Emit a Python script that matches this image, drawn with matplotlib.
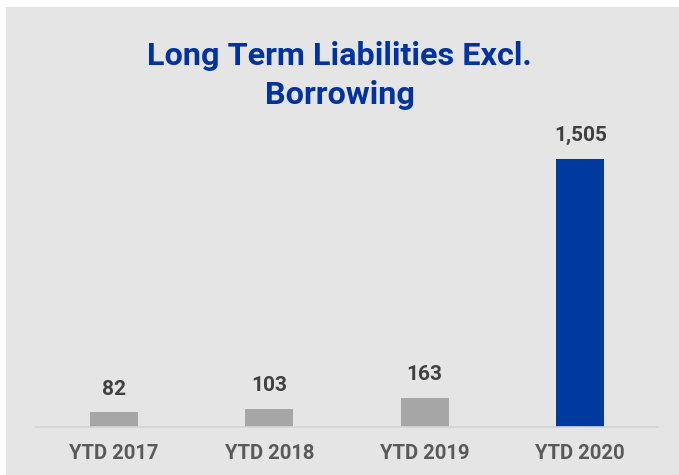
import matplotlib
matplotlib.use("Agg")
import matplotlib.pyplot as plt
from matplotlib.patches import Rectangle

categories = ["YTD 2017", "YTD 2018", "YTD 2019", "YTD 2020"]
values = [82, 103, 163, 1505]
value_labels = ["82", "103", "163", "1,505"]
bar_colors = ["#A6A6A6", "#A6A6A6", "#A6A6A6", "#003A9E"]
title = "Long Term Liabilities Excl.\nBorrowing"

FONT = ["Roboto", "DejaVu Sans"]

W, H, DPI = 679, 475, 100
fig = plt.figure(figsize=(W / DPI, H / DPI), dpi=DPI, facecolor="white")

# gray panel behind the chart, leaving a thin white margin top and left
fig.patches.append(Rectangle((6 / W, 0), 1 - 6 / W, 1 - 7 / H,
                             transform=fig.transFigure, facecolor="#E5E5E5",
                             edgecolor="none", zorder=-5))

ax = fig.add_axes([36 / W, 48 / H, (658 - 36) / W, (427 - 124) / H])
ax.set_zorder(2)
ax.set_facecolor("none")
x = range(len(categories))
ax.bar(x, values, width=0.31, color=bar_colors, zorder=2)
ax.set_xlim(-0.5, 3.5)
ax.set_ylim(0, 1700)

for s in ["top", "right", "left"]:
    ax.spines[s].set_visible(False)
ax.spines["bottom"].set_color("#D4D4D4")
ax.spines["bottom"].set_linewidth(1.2)
ax.set_yticks([])
ax.set_xticks(list(x))
ax.set_xticklabels(categories, fontsize=14.6, fontweight="bold", color="#595959",
                   family=FONT)
ax.tick_params(axis="x", length=0, pad=12)

for xi, v, lab in zip(x, values, value_labels):
    ax.annotate(lab, (xi, v), xytext=(0, 23), textcoords="offset pixels",
                ha="center", va="center", fontsize=15, fontweight="bold",
                color="#404040", family=FONT)

# two-line title; the baseline anchor sits on the second line
fig.text(0.5, 1 - 104 / H, title, ha="center", va="baseline", fontsize=23.3,
         fontweight="bold", color="#0033A0", linespacing=1.36,
         family=FONT, zorder=3)

fig.savefig("out.png", dpi=DPI, facecolor="white")
